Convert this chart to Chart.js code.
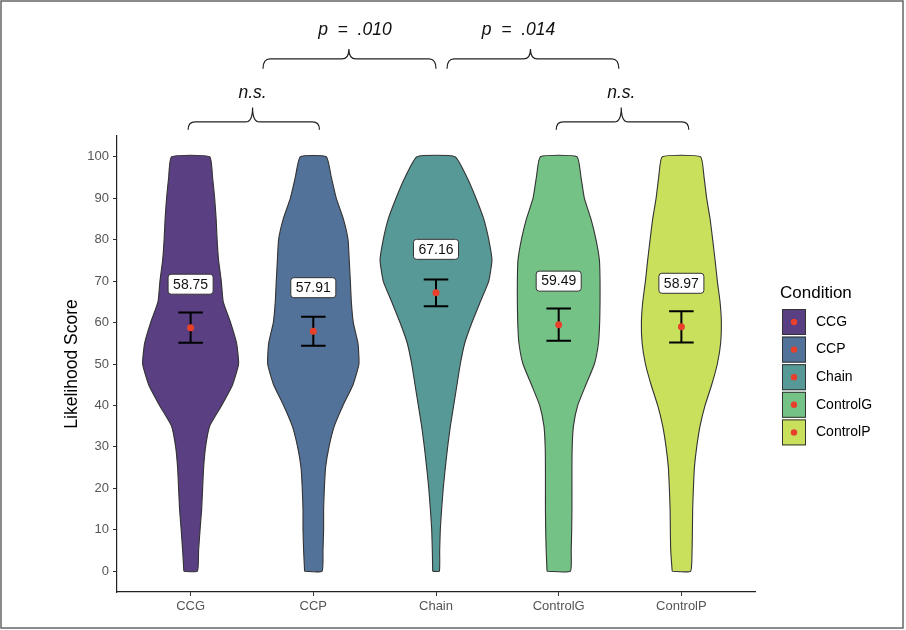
<!DOCTYPE html>
<html>
<head>
<meta charset="utf-8">
<script src="https://cdn.jsdelivr.net/npm/chart.js@4.4.1/dist/chart.umd.min.js"></script>
<style>
  html, body { margin: 0; padding: 0; background: #fff; }
  #wrap { width: 906px; height: 630px; position: relative; }
</style>
</head>
<body>
<div id="wrap"><canvas id="violin" width="906" height="630"></canvas></div>
<script>
// violin plot of likelihood scores per condition
const categories = ['CCG', 'CCP', 'Chain', 'ControlG', 'ControlP'];
const yTicks = [0, 10, 20, 30, 40, 50, 60, 70, 80, 90, 100];

const scoreLevels = [0, 5, 10, 15, 20, 25, 30, 35, 40, 45, 50, 55, 60, 65, 70, 75, 80, 85, 90, 95, 100];

// half widths of each violin (in category units) at those levels
const widthCCG      = [.055, .065, .077, .090, .098, .106, .122, .155, .253, .342, .391, .375, .326, .266, .250, .228, .216, .208, .196, .179, .155];
const widthCCP      = [.071, .079, .084, .084, .090, .100, .128, .171, .242, .324, .372, .364, .326, .310, .302, .293, .283, .245, .187, .147, .106];
const widthChain    = [.027, .030, .035, .046, .059, .076, .095, .117, .144, .171, .198, .234, .293, .361, .430, .456, .430, .389, .326, .253, .155];
const widthControlG = [.095, .102, .106, .108, .108, .108, .110, .120, .155, .222, .291, .324, .334, .337, .337, .332, .304, .263, .209, .182, .149];
const widthControlP = [.075, .087, .090, .092, .098, .106, .125, .152, .193, .247, .293, .320, .326, .315, .293, .275, .255, .234, .206, .185, .156];
const halfWidths = [widthCCG, widthCCP, widthChain, widthControlG, widthControlP];

const means  = [58.75, 57.91, 67.16, 59.49, 58.97];
const ciLow  = [55.10, 54.40, 63.96, 55.60, 55.20];
const ciHigh = [62.40, 61.40, 70.36, 63.40, 62.70];

// comparison braces above the plot
const braceLabels = ['n.s.', 'p  =  .010', 'p  =  .014', 'n.s.'];
const braceFrom   = [0.98, 1.59, 3.09, 3.98];
const braceTo     = [2.05, 3.00, 4.49, 5.06];
const braceTip    = [1.505, 2.29, 3.77, 4.51];
const braceLevel  = [1, 2, 2, 1];

const fills = ['#5a3f83', '#53729a', '#579996', '#75c286', '#c9e05d'];
const dotColor = '#e8402a';
const FONT = '"Liberation Sans", Arial, Helvetica, sans-serif';
Chart.defaults.font.family = FONT;

const violinSets = categories.map((name, i) => {
  const w = halfWidths[i];
  const pts = [];
  scoreLevels.forEach((v, k) => pts.push({ x: i + 1 - w[k], y: v }));
  for (let k = scoreLevels.length - 1; k >= 0; k--) pts.push({ x: i + 1 + w[k], y: scoreLevels[k] });
  pts.push(pts[0]);
  return {
    label: name, data: pts, showLine: true, fill: 'shape',
    backgroundColor: fills[i], borderColor: '#333', borderWidth: 1.1,
    pointRadius: 0, tension: 0.15, order: 3
  };
});

const capHalf = 0.1;
const errData = [];
categories.forEach((c, i) => {
  const x = i + 1;
  errData.push(
    { x: x - capHalf, y: ciHigh[i] }, { x: x + capHalf, y: ciHigh[i] }, { x: x, y: null },
    { x: x, y: ciHigh[i] }, { x: x, y: ciLow[i] }, { x: x, y: null },
    { x: x - capHalf, y: ciLow[i] }, { x: x + capHalf, y: ciLow[i] }, { x: x, y: null }
  );
});

const extras = {
  id: 'extras',
  afterDatasetsDraw(chart) {
    const { ctx, scales: { x, y } } = chart;
    ctx.save();
    // mean labels
    ctx.font = '14px ' + FONT;
    ctx.textAlign = 'center';
    ctx.textBaseline = 'middle';
    means.forEach((m, i) => {
      const txt = m.toFixed(2);
      const px = x.getPixelForValue(i + 1);
      const py = y.getPixelForValue(m + 10.5);
      const bw = ctx.measureText(txt).width + 10, bh = 20;
      ctx.beginPath();
      ctx.roundRect(px - bw / 2, py - bh / 2, bw, bh, 3);
      ctx.fillStyle = '#fff';
      ctx.fill();
      ctx.strokeStyle = '#333';
      ctx.lineWidth = 1;
      ctx.stroke();
      ctx.fillStyle = '#111';
      ctx.fillText(txt, px, py + 0.5);
    });

    // braces
    const levels = { 1: { end: 106.5, bar: 108.4, tip: 111.9, text: 115.4 },
                     2: { end: 121.2, bar: 123.6, tip: 126.0, text: 130.6 } };
    ctx.strokeStyle = '#222';
    ctx.lineWidth = 1.2;
    braceLabels.forEach((lab, i) => {
      const L = levels[braceLevel[i]];
      const x0 = x.getPixelForValue(braceFrom[i]);
      const x1 = x.getPixelForValue(braceTo[i]);
      const xt = x.getPixelForValue(braceTip[i]);
      const yE = y.getPixelForValue(L.end), yB = y.getPixelForValue(L.bar), yT = y.getPixelForValue(L.tip);
      const r = 7;
      ctx.beginPath();
      ctx.moveTo(x0, yE);
      ctx.quadraticCurveTo(x0, yB, x0 + r, yB);
      ctx.lineTo(xt - r, yB);
      ctx.quadraticCurveTo(xt, yB, xt, yT);
      ctx.quadraticCurveTo(xt, yB, xt + r, yB);
      ctx.lineTo(x1 - r, yB);
      ctx.quadraticCurveTo(x1, yB, x1, yE);
      ctx.stroke();
      ctx.font = 'italic 17.5px ' + FONT;
      ctx.fillStyle = '#111';
      ctx.fillText(lab, xt + (braceLevel[i] === 2 ? (i === 1 ? 6 : -12) : 0), y.getPixelForValue(L.text));
    });
    ctx.restore();
  },
  afterDraw(chart) {
    const { ctx } = chart;
    ctx.save();
    // legend
    ctx.textAlign = 'left';
    ctx.textBaseline = 'middle';
    ctx.fillStyle = '#000';
    ctx.font = '17px ' + FONT;
    ctx.fillText('Condition', 780, 293);
    categories.forEach((name, i) => {
      const top = 309 + i * 27.6;
      ctx.fillStyle = fills[i];
      ctx.fillRect(782, top, 24, 26);
      ctx.strokeStyle = '#333';
      ctx.lineWidth = 1;
      ctx.strokeRect(782.5, top + 0.5, 23, 25);
      ctx.beginPath();
      ctx.arc(794, top + 13, 3.2, 0, Math.PI * 2);
      ctx.fillStyle = dotColor;
      ctx.fill();
      ctx.fillStyle = '#000';
      ctx.font = '14px ' + FONT;
      ctx.fillText(name, 816, top + 13);
    });
    // frame
    ctx.strokeStyle = '#666';
    ctx.lineWidth = 1.5;
    ctx.strokeRect(1, 1, 902, 627);
    ctx.restore();
  }
};

new Chart(document.getElementById('violin'), {
  type: 'scatter',
  data: {
    datasets: [
      { label: 'mean', data: means.map((m, i) => ({ x: i + 1, y: m })), pointRadius: 3.5, pointHoverRadius: 3.5,
        backgroundColor: dotColor, borderWidth: 0, order: 0 },
      { label: 'ci', data: errData, showLine: true, spanGaps: false, borderColor: '#000', borderWidth: 2,
        pointRadius: 0, tension: 0, fill: false, order: 1 },
      ...violinSets
    ]
  },
  options: {
    responsive: false,
    animation: false,
    devicePixelRatio: 1,
    layout: { padding: { left: 0, right: 151, top: 136, bottom: 0 } },
    plugins: { legend: { display: false }, tooltip: { enabled: false } },
    scales: {
      x: {
        type: 'linear', min: 0.4, max: 5.6,
        afterBuildTicks: s => { s.ticks = categories.map((c, i) => ({ value: i + 1 })); },
        afterFit: s => { s.height = 38; },
        ticks: { callback: v => categories[Math.round(v) - 1], color: '#555', font: { size: 13 }, padding: 3, maxRotation: 0 },
        grid: { drawOnChartArea: false, drawTicks: true, tickLength: 4, color: '#333' },
        border: { color: '#222', width: 1.2 }
      },
      y: {
        min: -5, max: 105,
        afterBuildTicks: s => { s.ticks = yTicks.map(v => ({ value: v })); },
        afterFit: s => { s.width = 117; },
        ticks: { color: '#555', font: { size: 13 }, padding: 4 },
        grid: { drawOnChartArea: false, drawTicks: true, tickLength: 4, color: '#333' },
        border: { color: '#222', width: 1.2 },
        title: { display: true, text: 'Likelihood Score', color: '#000', font: { size: 17.5 }, padding: { top: 62, bottom: 0 } }
      }
    }
  },
  plugins: [extras]
});
</script>
</body>
</html>
